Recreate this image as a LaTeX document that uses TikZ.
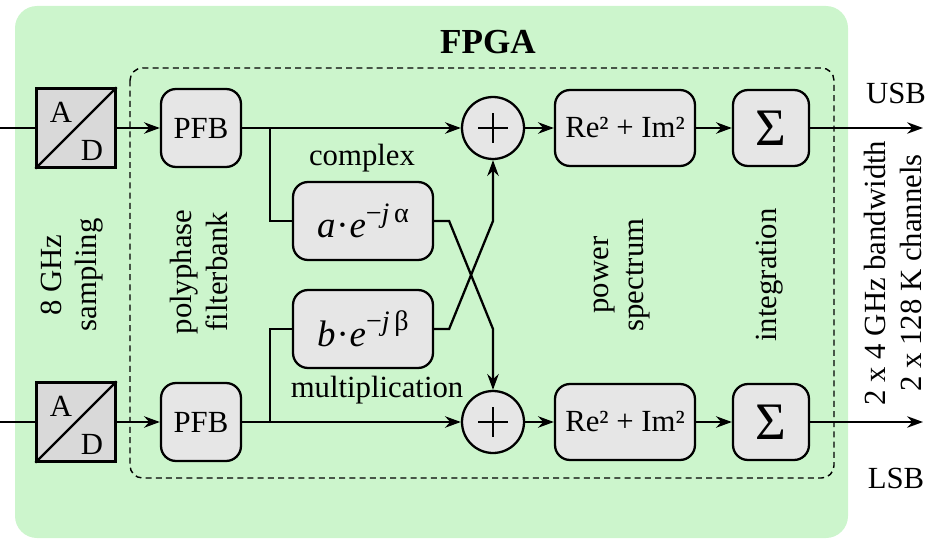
\documentclass[tikz,border=0pt]{standalone}
\usepackage{fontspec}
\setmainfont{Liberation Serif}
\usetikzlibrary{arrows.meta}
\definecolor{fpgagreen}{HTML}{CCF5CC}
\definecolor{boxgray}{HTML}{E6E6E6}
\definecolor{adgray}{HTML}{D9D9D9}
\newcommand{\phasor}[2]{{\fontsize{21}{24}\selectfont\textit{#1}\kern0.5pt·\kern0.5pt\textit{e}\raisebox{0.42em}{\fontsize{16}{16}\selectfont −\textit{j}\,#2}}}
\begin{document}
\begin{tikzpicture}[x=0.02cm, y=-0.02cm, line width=1.3pt,
    font=\fontsize{17.5}{20}\selectfont,
    >={Stealth[length=9pt,width=6.5pt]},
    block/.style={draw, fill=boxgray, rounded corners=0.3cm, minimum height=1.56cm, inner sep=0pt},
    adbox/.style={draw, fill=adgray, minimum size=1.58cm, inner sep=0pt},
    sumnode/.style={draw, fill=boxgray, circle, minimum size=1.24cm, inner sep=0pt},
    vlabel/.style={align=center, rotate=90}]
    \useasboundingbox (0,0) rectangle (938,541);
    \fill[fpgagreen, rounded corners=0.44cm] (15,6) rectangle (848,538);
    \draw[line width=0.8pt, dash pattern=on 3.4pt off 2.4pt, rounded corners=0.25cm] (130,68) rectangle (834,478);
    \node[font=\fontsize{20}{24}\selectfont\bfseries] (fpga) at (488,42) {FPGA};

    % upper chain
    \coordinate (in1) at (0,128);
    \node[adbox] (ad1) at (76,128) {};
    \draw (ad1.south west) -- (ad1.north east);
    \node (a1) at (61,112) {A};
    \node (d1) at (92,150) {D};
    \node[block, minimum width=1.6cm] (pfb1) at (201,128) {PFB};
    \node[sumnode] (sum1) at (493,128) {};
    \draw ([xshift=-0.3cm]sum1.center) -- ([xshift=0.3cm]sum1.center);
    \draw ([yshift=-0.3cm]sum1.center) -- ([yshift=0.3cm]sum1.center);
    \node[block, minimum width=2.8cm, minimum height=1.52cm] (pow1) at (625,128) {Re² + Im²};
    \node[block, minimum width=1.52cm, minimum height=1.52cm] (int1) at (771,128) {\fontsize{30}{30}\selectfont Σ};
    \coordinate (out1) at (923,128);

    % lower chain
    \coordinate (in2) at (0,422);
    \node[adbox] (ad2) at (76,422) {};
    \draw (ad2.south west) -- (ad2.north east);
    \node (a2) at (61,406) {A};
    \node (d2) at (92,444) {D};
    \node[block, minimum width=1.6cm] (pfb2) at (201,422) {PFB};
    \node[sumnode] (sum2) at (493,422) {};
    \draw ([xshift=-0.3cm]sum2.center) -- ([xshift=0.3cm]sum2.center);
    \draw ([yshift=-0.3cm]sum2.center) -- ([yshift=0.3cm]sum2.center);
    \node[block, minimum width=2.8cm, minimum height=1.52cm] (pow2) at (625,422) {Re² + Im²};
    \node[block, minimum width=1.52cm, minimum height=1.52cm] (int2) at (771,422) {\fontsize{30}{30}\selectfont Σ};
    \coordinate (out2) at (923,422);

    % multipliers
    \node[block, minimum width=2.8cm] (mula) at (363,221) {\phasor{a}{α}};
    \node[block, minimum width=2.8cm] (mulb) at (363,329) {\phasor{b}{β}};
    \coordinate (br1) at (270,128);
    \coordinate (br2) at (270,422);

    \draw (in1) -- (ad1);
    \draw[->] (ad1) -- (pfb1);
    \draw[->] (pfb1) -- (sum1);
    \draw[->] (sum1) -- (pow1);
    \draw[->] (pow1) -- (int1);
    \draw[->] (int1) -- (out1);

    \draw (in2) -- (ad2);
    \draw[->] (ad2) -- (pfb2);
    \draw[->] (pfb2) -- (sum2);
    \draw[->] (sum2) -- (pow2);
    \draw[->] (pow2) -- (int2);
    \draw[->] (int2) -- (out2);

    \draw (br1) |- (mula);
    \draw (br2) |- (mulb);
    \draw[->] (mula.east) -- ++(15,0) -- (sum2 |- mulb) -- (sum2);
    \draw[->] (mulb.east) -- ++(15,0) -- (sum1 |- mula) -- (sum1);

    % labels
    \node (cplx) at (362,158) {complex};
    \node (mult) at (377,390) {multiplication};
    \node[vlabel] (samp) at (72,275) {8 GHz\\sampling};
    \node[vlabel] (poly) at (199,272) {polyphase\\filterbank};
    \node[vlabel] (spec) at (622,275) {power\\spectrum};
    \node[vlabel] (integ) at (770,275) {integration};
    \node[vlabel] (bw) at (893,273) {2 x 4 GHz bandwidth\\2 x 128 K channels};
    \node (usb) at (896,93) {USB};
    \node (lsb) at (896,478) {LSB};
\end{tikzpicture}
\end{document}
